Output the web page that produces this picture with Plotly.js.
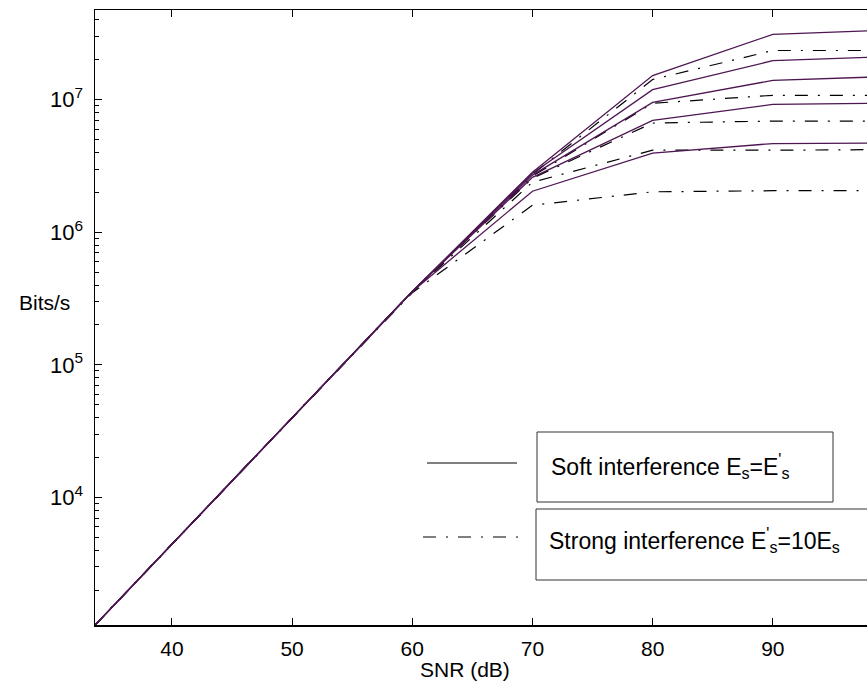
<!DOCTYPE html>
<html>
<head>
<meta charset="utf-8">
<script src="https://cdn.plot.ly/plotly-3.0.1.min.js"></script>
<style>
html,body{margin:0;padding:0;overflow:hidden;background:#fff;width:867px;height:689px;}
#chart{width:920px;height:689px;}
</style>
</head>
<body>
<div id="chart"></div>
<script>
// SNR (dB) sample points
const snr = [33.6, 40, 50, 60, 70, 80, 90, 100];

// Soft interference (Es = E's) - solid curves
const soft1 = [1090, 4450, 39900, 358000, 2840000, 15200000, 31100000, 33600000];
const soft2 = [1090, 4450, 39900, 358000, 2790000, 11900000, 19700000, 21200000];
const soft3 = [1090, 4450, 39900, 358000, 2700000, 9550000, 14000000, 15000000];
const soft4 = [1090, 4450, 39900, 358000, 2600000, 6980000, 9220000, 9430000];
const soft5 = [1090, 4450, 39900, 358000, 2040000, 3960000, 4670000, 4720000];

// Strong interference (E's = 10 Es) - dash-dot curves
const strong1 = [1090, 4450, 39900, 358000, 2740000, 14200000, 23500000, 23500000];
const strong2 = [1090, 4450, 39900, 358000, 2650000, 9400000, 10800000, 10800000];
const strong3 = [1090, 4450, 39900, 358000, 2560000, 6670000, 6900000, 6900000];
const strong4 = [1090, 4450, 39900, 355000, 2390000, 4160000, 4160000, 4210000];
const strong5 = [1090, 4450, 39900, 350000, 1600000, 2020000, 2060000, 2060000];

const softSeries = [soft1, soft2, soft3, soft4, soft5];
const strongSeries = [strong1, strong2, strong3, strong4, strong5];

const xTickVals = [40, 50, 60, 70, 80, 90];
const yTickVals = [1e4, 1e5, 1e6, 1e7];
const yTickText = ['10<sup>4</sup>', '10<sup>5</sup>', '10<sup>6</sup>', '10<sup>7</sup>'];
const legendSoft = "Soft interference E<sub>s</sub>=E<sup>'</sup><sub>s</sub>";
const legendStrong = "Strong interference E<sup>'</sup><sub>s</sub>=10E<sub>s</sub>";
const xTitle = "SNR (dB)";
const yTitle = "Bits/s";

const purple = '#4e1652';
const dashDot = '13px,10px,2px,10px';
const FONT = 'Liberation Sans, Arial, Helvetica, sans-serif';

const traces = [];
strongSeries.forEach(function(s){
  traces.push({x: snr, y: s, type: 'scatter', mode: 'lines',
    line: {color: '#000', width: 1.2, dash: dashDot}, showlegend: false, hoverinfo: 'skip'});
});
softSeries.forEach(function(s){
  traces.push({x: snr, y: s, type: 'scatter', mode: 'lines',
    line: {color: purple, width: 1.3}, showlegend: false, hoverinfo: 'skip'});
});

// minor tick positions for the log axis
const minorVals = [];
for (let d = 3; d <= 7; d++) {
  for (let k = 2; k <= 9; k++) minorVals.push(k * Math.pow(10, d));
}

// pixel helpers -> paper coordinates (plot area 95..893 x, 10..625 y)
const L = 95, R = 893, T = 10, B = 625;
const px = v => (v - L) / (R - L);
const py = v => (B - v) / (B - T);

const layout = {
  width: 920, height: 689,
  margin: {l: L, r: 920 - R, t: T, b: 689 - B},
  paper_bgcolor: '#fff', plot_bgcolor: '#fff',
  font: {family: FONT, size: 21, color: '#000'},
  showlegend: false,
  xaxis: {
    range: [33.6, 100], tickmode: 'array', tickvals: xTickVals, ticks: 'inside', ticklen: 7, tickwidth: 1,
    tickcolor: '#000', showline: true, linecolor: '#000', linewidth: 1.5, mirror: 'ticks',
    showgrid: false, zeroline: false, tickfont: {size: 21, family: FONT}, ticklabelstandoff: 4
  },
  yaxis: {
    type: 'log', range: [Math.log10(1092), Math.log10(47500000)],
    tickmode: 'array', tickvals: yTickVals, ticktext: yTickText,
    ticks: 'inside', ticklen: 7, tickwidth: 1, tickcolor: '#000',
    showline: true, linecolor: '#000', linewidth: 1.5, mirror: 'ticks',
    showgrid: false, zeroline: false, tickfont: {size: 22, family: FONT},
    ticklabelstandoff: 6,
    minor: {tickmode: 'array', tickvals: minorVals, ticks: 'inside', ticklen: 4, tickwidth: 1, tickcolor: '#000', showgrid: false}
  },
  shapes: [
    {type: 'line', xref: 'paper', yref: 'paper', x0: px(427), x1: px(517), y0: py(463), y1: py(463),
     line: {color: '#000', width: 1.2}},
    {type: 'line', xref: 'paper', yref: 'paper', x0: px(423), x1: px(518), y0: py(537), y1: py(537),
     line: {color: '#000', width: 1.2, dash: dashDot}},
    {type: 'rect', xref: 'paper', yref: 'paper', x0: px(537), x1: px(833), y0: py(502), y1: py(432),
     line: {color: '#333', width: 1}, fillcolor: 'rgba(0,0,0,0)'},
    {type: 'rect', xref: 'paper', yref: 'paper', x0: px(536), x1: px(905), y0: py(580), y1: py(509),
     line: {color: '#333', width: 1}, fillcolor: 'rgba(0,0,0,0)'}
  ],
  annotations: [
    {text: legendSoft, xref: 'paper', yref: 'paper', x: px(549), y: py(466), xanchor: 'left', yanchor: 'middle',
     showarrow: false, font: {size: 23, family: FONT}},
    {text: legendStrong, xref: 'paper', yref: 'paper', x: px(547), y: py(540), xanchor: 'left', yanchor: 'middle',
     showarrow: false, font: {size: 23, family: FONT}},
    {text: xTitle, xref: 'paper', yref: 'paper', x: px(465), y: py(669), xanchor: 'center', yanchor: 'middle',
     showarrow: false, font: {size: 21, family: FONT}},
    {text: yTitle, xref: 'paper', yref: 'paper', x: px(44), y: py(302), xanchor: 'center', yanchor: 'middle',
     showarrow: false, font: {size: 21, family: FONT}}
  ]
};

Plotly.newPlot('chart', traces, layout, {displayModeBar: false, staticPlot: true});
</script>
</body>
</html>
